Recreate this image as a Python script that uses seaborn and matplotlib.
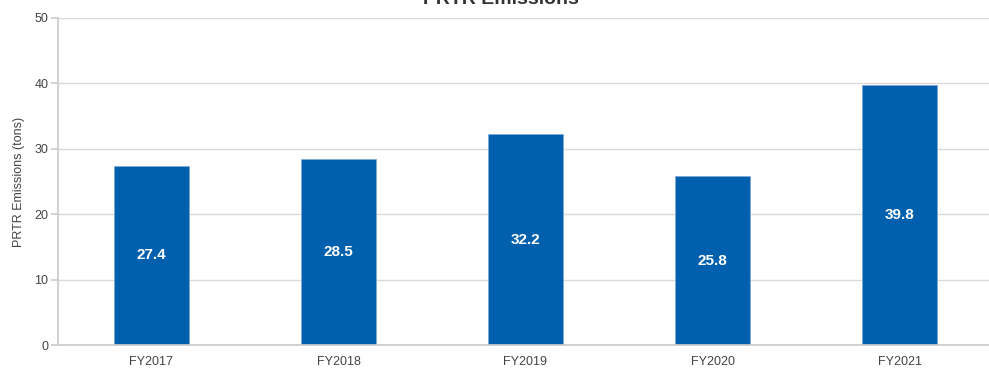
import matplotlib
matplotlib.use("Agg")
import matplotlib.pyplot as plt
import seaborn as sns
import pandas as pd

years = ["FY2017", "FY2018", "FY2019", "FY2020", "FY2021"]
emissions = [27.4, 28.5, 32.2, 25.8, 39.8]
y_ticks = [0, 10, 20, 30, 40, 50]

sns.set_theme(style="white")
plt.rcParams["font.family"] = ["Liberation Sans", "DejaVu Sans"]

df = pd.DataFrame({"year": years, "emissions": emissions})

W, H = 989, 369
fig = plt.figure(figsize=(W / 100, H / 100), dpi=100)
ax = fig.add_axes([58 / W, (H - 345) / H, (993 - 58) / W, (345 - 18) / H])

sns.barplot(data=df, x="year", y="emissions", color="#0060AD", saturation=1,
            width=0.4, ax=ax, edgecolor="#7fa9d4", linewidth=0.6)

ax.set_ylim(0, 50)
ax.set_yticks(y_ticks)
ax.set_xlim(-0.5, len(years) - 0.5)
ax.yaxis.grid(True, color="#d9d9d9", linewidth=1)
ax.set_axisbelow(True)
for s in ["top", "right"]:
    ax.spines[s].set_visible(False)
ax.spines["left"].set_color("#cccccc")
ax.spines["bottom"].set_color("#cccccc")
ax.tick_params(axis="y", length=5, color="#cccccc", labelsize=9, labelcolor="#444444", pad=2, left=True)
ax.tick_params(axis="x", length=0, labelsize=9, labelcolor="#444444", pad=8)
ax.set_xlabel("")
ax.set_ylabel("PRTR Emissions (tons)", fontsize=9, color="#444444", labelpad=7)

for i, v in enumerate(emissions):
    ax.text(i, v / 2, f"{v:.1f}", ha="center", va="center", color="white",
            fontsize=11, fontweight="bold")

fig.text(501 / W, 1 - 4 / H, "PRTR Emissions", ha="center", va="baseline",
         fontsize=14, fontweight="bold", color="#333333")

fig.savefig("out.png", dpi=100)
